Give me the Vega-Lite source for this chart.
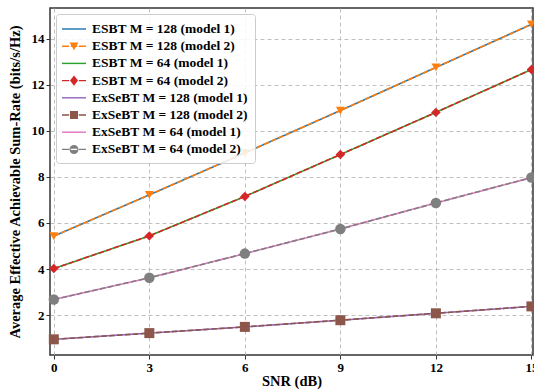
{
  "$schema": "https://vega.github.io/schema/vega-lite/v6.json",
  "width": 483,
  "height": 347,
  "autosize": {"type": "none"},
  "padding": {"left": 50, "top": 8, "right": 1, "bottom": 35},
  "background": "white",
  "config": {
    "view": {"stroke": "#333333", "strokeWidth": 1.5},
    "axis": {
      "labelFont": "Liberation Serif", "labelFontWeight": "bold", "labelFontSize": 13, "labelColor": "black",
      "titleFont": "Liberation Serif", "titleFontWeight": "bold", "titleFontSize": 14.5, "titleColor": "black",
      "domain": false, "tickColor": "#333333", "tickSize": 4, "labelPadding": 2,
      "gridColor": "#b0b0b0", "gridDash": [4, 3], "gridWidth": 0.8
    },
    "legend": {
      "labelFont": "Liberation Serif", "labelFontWeight": "bold", "labelFontSize": 13.5, "labelColor": "black"
    }
  },
  "data": {
    "values": [
      {"snr": 0, "rate": 5.43, "series": "ESBT M = 128 (model 1)", "model": "model 1"},
      {"snr": 3, "rate": 7.22, "series": "ESBT M = 128 (model 1)", "model": "model 1"},
      {"snr": 6, "rate": 9.04, "series": "ESBT M = 128 (model 1)", "model": "model 1"},
      {"snr": 9, "rate": 10.88, "series": "ESBT M = 128 (model 1)", "model": "model 1"},
      {"snr": 12, "rate": 12.75, "series": "ESBT M = 128 (model 1)", "model": "model 1"},
      {"snr": 15, "rate": 14.62, "series": "ESBT M = 128 (model 1)", "model": "model 1"},
      {"snr": 0, "rate": 5.43, "series": "ESBT M = 128 (model 2)", "model": "model 2"},
      {"snr": 3, "rate": 7.22, "series": "ESBT M = 128 (model 2)", "model": "model 2"},
      {"snr": 6, "rate": 9.04, "series": "ESBT M = 128 (model 2)", "model": "model 2"},
      {"snr": 9, "rate": 10.88, "series": "ESBT M = 128 (model 2)", "model": "model 2"},
      {"snr": 12, "rate": 12.75, "series": "ESBT M = 128 (model 2)", "model": "model 2"},
      {"snr": 15, "rate": 14.62, "series": "ESBT M = 128 (model 2)", "model": "model 2"},
      {"snr": 0, "rate": 4.02, "series": "ESBT M = 64 (model 1)", "model": "model 1"},
      {"snr": 3, "rate": 5.44, "series": "ESBT M = 64 (model 1)", "model": "model 1"},
      {"snr": 6, "rate": 7.15, "series": "ESBT M = 64 (model 1)", "model": "model 1"},
      {"snr": 9, "rate": 8.97, "series": "ESBT M = 64 (model 1)", "model": "model 1"},
      {"snr": 12, "rate": 10.8, "series": "ESBT M = 64 (model 1)", "model": "model 1"},
      {"snr": 15, "rate": 12.66, "series": "ESBT M = 64 (model 1)", "model": "model 1"},
      {"snr": 0, "rate": 4.02, "series": "ESBT M = 64 (model 2)", "model": "model 2"},
      {"snr": 3, "rate": 5.44, "series": "ESBT M = 64 (model 2)", "model": "model 2"},
      {"snr": 6, "rate": 7.15, "series": "ESBT M = 64 (model 2)", "model": "model 2"},
      {"snr": 9, "rate": 8.97, "series": "ESBT M = 64 (model 2)", "model": "model 2"},
      {"snr": 12, "rate": 10.8, "series": "ESBT M = 64 (model 2)", "model": "model 2"},
      {"snr": 15, "rate": 12.66, "series": "ESBT M = 64 (model 2)", "model": "model 2"},
      {"snr": 0, "rate": 0.95, "series": "ExSeBT M = 128 (model 1)", "model": "model 1"},
      {"snr": 3, "rate": 1.22, "series": "ExSeBT M = 128 (model 1)", "model": "model 1"},
      {"snr": 6, "rate": 1.49, "series": "ExSeBT M = 128 (model 1)", "model": "model 1"},
      {"snr": 9, "rate": 1.78, "series": "ExSeBT M = 128 (model 1)", "model": "model 1"},
      {"snr": 12, "rate": 2.08, "series": "ExSeBT M = 128 (model 1)", "model": "model 1"},
      {"snr": 15, "rate": 2.38, "series": "ExSeBT M = 128 (model 1)", "model": "model 1"},
      {"snr": 0, "rate": 0.95, "series": "ExSeBT M = 128 (model 2)", "model": "model 2"},
      {"snr": 3, "rate": 1.22, "series": "ExSeBT M = 128 (model 2)", "model": "model 2"},
      {"snr": 6, "rate": 1.49, "series": "ExSeBT M = 128 (model 2)", "model": "model 2"},
      {"snr": 9, "rate": 1.78, "series": "ExSeBT M = 128 (model 2)", "model": "model 2"},
      {"snr": 12, "rate": 2.08, "series": "ExSeBT M = 128 (model 2)", "model": "model 2"},
      {"snr": 15, "rate": 2.38, "series": "ExSeBT M = 128 (model 2)", "model": "model 2"},
      {"snr": 0, "rate": 2.68, "series": "ExSeBT M = 64 (model 1)", "model": "model 1"},
      {"snr": 3, "rate": 3.62, "series": "ExSeBT M = 64 (model 1)", "model": "model 1"},
      {"snr": 6, "rate": 4.67, "series": "ExSeBT M = 64 (model 1)", "model": "model 1"},
      {"snr": 9, "rate": 5.74, "series": "ExSeBT M = 64 (model 1)", "model": "model 1"},
      {"snr": 12, "rate": 6.87, "series": "ExSeBT M = 64 (model 1)", "model": "model 1"},
      {"snr": 15, "rate": 7.97, "series": "ExSeBT M = 64 (model 1)", "model": "model 1"},
      {"snr": 0, "rate": 2.68, "series": "ExSeBT M = 64 (model 2)", "model": "model 2"},
      {"snr": 3, "rate": 3.62, "series": "ExSeBT M = 64 (model 2)", "model": "model 2"},
      {"snr": 6, "rate": 4.67, "series": "ExSeBT M = 64 (model 2)", "model": "model 2"},
      {"snr": 9, "rate": 5.74, "series": "ExSeBT M = 64 (model 2)", "model": "model 2"},
      {"snr": 12, "rate": 6.87, "series": "ExSeBT M = 64 (model 2)", "model": "model 2"},
      {"snr": 15, "rate": 7.97, "series": "ExSeBT M = 64 (model 2)", "model": "model 2"}
    ]
  },
  "encoding": {
    "x": {
      "field": "snr", "type": "quantitative",
      "scale": {"domain": [-0.12, 15.05], "nice": false, "zero": false},
      "axis": {"values": [0, 3, 6, 9, 12, 15], "title": "SNR (dB)", "titlePadding": 0}
    },
    "y": {
      "field": "rate", "type": "quantitative",
      "scale": {"domain": [0.27, 15.33], "nice": false, "zero": false},
      "axis": {"values": [2, 4, 6, 8, 10, 12, 14], "title": "Average Effective Achievable Sum-Rate (bits/s/Hz)", "titlePadding": 9}
    },
    "color": {
      "field": "series", "type": "nominal",
      "scale": {
        "domain": ["ESBT M = 128 (model 1)", "ESBT M = 128 (model 2)", "ESBT M = 64 (model 1)", "ESBT M = 64 (model 2)", "ExSeBT M = 128 (model 1)", "ExSeBT M = 128 (model 2)", "ExSeBT M = 64 (model 1)", "ExSeBT M = 64 (model 2)"],
        "range": ["#1f77b4", "#ff7f0e", "#2ca02c", "#d62728", "#9467bd", "#8c564b", "#e377c2", "#7f7f7f"]
      },
      "legend": {
        "title": null,
        "orient": "top-left",
        "offset": 6,
        "padding": 7,
        "rowPadding": 2.2,
        "symbolSize": 256,
        "symbolOffset": 3,
        "labelOffset": 10,
        "fillColor": "rgba(255,255,255,0.85)",
        "strokeColor": "#cccccc",
        "cornerRadius": 3,
        "encode": {
          "symbols": {
            "update": {
              "shape": {"signal": "indexof(datum.value,'model 1')>=0 ? 'M-1.5,-0.09H1.5V0.09H-1.5Z' : indexof(datum.value,'ESBT M = 128')>=0 ? 'M-1.5,-0.09H-0.6V0.09H-1.5Z M-0.4,-0.09H0.4V0.09H-0.4Z M0.6,-0.09H1.5V0.09H0.6Z M-0.55,-0.45H0.55L0,0.5Z' : indexof(datum.value,'ESBT M = 64')>=0 ? 'M-1.5,-0.09H-0.6V0.09H-1.5Z M-0.4,-0.09H0.4V0.09H-0.4Z M0.6,-0.09H1.5V0.09H0.6Z M0,-0.65L0.5,0L0,0.65L-0.5,0Z' : indexof(datum.value,'ExSeBT M = 128')>=0 ? 'M-1.5,-0.09H-0.6V0.09H-1.5Z M-0.4,-0.09H0.4V0.09H-0.4Z M0.6,-0.09H1.5V0.09H0.6Z M-0.5,-0.5H0.5V0.5H-0.5Z' : 'M-1.5,-0.09H-0.6V0.09H-1.5Z M-0.4,-0.09H0.4V0.09H-0.4Z M0.6,-0.09H1.5V0.09H0.6Z M-0.56,0A0.56,0.56 0 1,0 0.56,0A0.56,0.56 0 1,0 -0.56,0Z'"},
              "fill": {"scale": "color", "field": "value"},
              "stroke": {"value": "transparent"},
              "strokeWidth": {"value": 0},
              "opacity": {"value": 1}
            }
          }
        }
      }
    }
  },
  "layer": [
    {
      "mark": {"type": "line", "strokeWidth": 1.6},
      "encoding": {
        "strokeDash": {
          "field": "model", "type": "nominal",
          "scale": {"domain": ["model 1", "model 2"], "range": [[1, 0], [5.5, 2.4]]},
          "legend": null
        },
        "order": {"field": "snr", "type": "quantitative"}
      }
    },
    {
      "transform": [{"filter": "datum.model == 'model 2'"}],
      "mark": {"type": "point", "filled": true, "opacity": 1},
      "encoding": {
        "shape": {
          "field": "series", "type": "nominal",
          "scale": {
            "domain": ["ESBT M = 128 (model 2)", "ESBT M = 64 (model 2)", "ExSeBT M = 128 (model 2)", "ExSeBT M = 64 (model 2)"],
            "range": ["triangle-down", "diamond", "square", "circle"]
          },
          "legend": null
        },
        "size": {
          "field": "series", "type": "nominal",
          "scale": {
            "domain": ["ESBT M = 128 (model 2)", "ESBT M = 64 (model 2)", "ExSeBT M = 128 (model 2)", "ExSeBT M = 64 (model 2)"],
            "range": [80, 110, 70, 65]
          },
          "legend": null
        }
      }
    }
  ]
}
